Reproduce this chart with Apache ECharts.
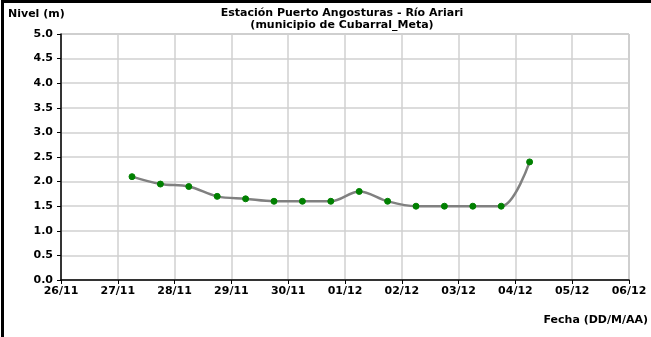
<!DOCTYPE html>
<html>
<head>
<meta charset="utf-8">
<script src="https://cdn.jsdelivr.net/npm/echarts@6/dist/echarts.min.js"></script>
<style>
  html, body { margin: 0; padding: 0; background: #fff; }
  #frame { position: absolute; left: 1px; top: 0; width: 650px; height: 337px;
           border-top: 3px solid #000; border-left: 3px solid #000; box-sizing: border-box; }
  #chart { position: absolute; left: 0; top: 0; width: 651px; height: 337px; }
</style>
</head>
<body>
<div id="frame"></div>
<div id="chart"></div>
<script>
// Readings: date (DD/MM) and hour of each gauge observation
var readingTimes = ['27/11 06', '27/11 18', '28/11 06', '28/11 18', '29/11 06', '29/11 18',
                    '30/11 06', '30/11 18', '01/12 06', '01/12 18', '02/12 06', '02/12 18',
                    '03/12 06', '03/12 18', '04/12 06'];
// Water level (m)
var levels = [2.1, 1.95, 1.9, 1.7, 1.65, 1.6, 1.6, 1.6, 1.8, 1.6, 1.5, 1.5, 1.5, 1.5, 2.4];
// Day labels along the date axis
var dayLabels = ['26/11', '27/11', '28/11', '29/11', '30/11', '01/12',
                 '02/12', '03/12', '04/12', '05/12', '06/12'];

// Axis position (in days since the first label) of a "DD/MM HH" reading
function dayOffset(t) {
  var parts = t.split(' ');
  var idx = dayLabels.indexOf(parts[0]);
  return idx + parseInt(parts[1], 10) / 24;
}

var points = readingTimes.map(function (t, i) { return [dayOffset(t), levels[i]]; });

var font = '"DejaVu Sans", Arial, sans-serif';
var chart = echarts.init(document.getElementById('chart'), null, { renderer: 'canvas' });
chart.setOption({
  animation: false,
  title: {
    text: 'Estación Puerto Angosturas - Río Ariari\n(municipio de Cubarral_Meta)',
    left: 337, top: 2, textAlign: 'center',
    textStyle: { fontFamily: font, fontSize: 11, fontWeight: 'bold', color: '#000', lineHeight: 12 }
  },
  grid: { left: 61, right: 22, top: 34, bottom: 57, show: true, borderColor: '#999', borderWidth: 1 },
  graphic: [
    { type: 'text', left: 8, top: 9,
      style: { text: 'Nivel (m)', font: 'bold 11px ' + font, fill: '#000' } },
    { type: 'text', right: 3, top: 315,
      style: { text: 'Fecha (DD/M/AA)', font: 'bold 11px ' + font, fill: '#000' } }
  ],
  xAxis: {
    type: 'value', min: 0, max: 10, interval: 1,
    axisLine: { show: true, onZero: false, lineStyle: { color: '#000', width: 1.5 } },
    axisTick: { show: true, length: 4, lineStyle: { color: '#000' } },
    splitLine: { show: true, lineStyle: { color: '#d0d0d0', width: 1.5 } },
    axisLabel: {
      fontFamily: font, fontSize: 11, fontWeight: 'bold', color: '#000', margin: 6,
      formatter: function (v) { return dayLabels[Math.round(v)]; }
    }
  },
  yAxis: {
    type: 'value', min: 0, max: 5, interval: 0.5,
    axisLine: { show: true, lineStyle: { color: '#000', width: 1.5 } },
    axisTick: { show: true, length: 4, lineStyle: { color: '#000' } },
    splitLine: { show: true, lineStyle: { color: '#d0d0d0', width: 1.5 } },
    axisLabel: {
      fontFamily: font, fontSize: 11, fontWeight: 'bold', color: '#000', margin: 8,
      formatter: function (v) { return v.toFixed(1); }
    }
  },
  series: [{
    type: 'line',
    data: points,
    smooth: 0.35,
    symbol: 'circle',
    symbolSize: 6,
    lineStyle: { color: '#808080', width: 2.5 },
    itemStyle: { color: '#008000', borderColor: '#008000' }
  }]
});
</script>
</body>
</html>
